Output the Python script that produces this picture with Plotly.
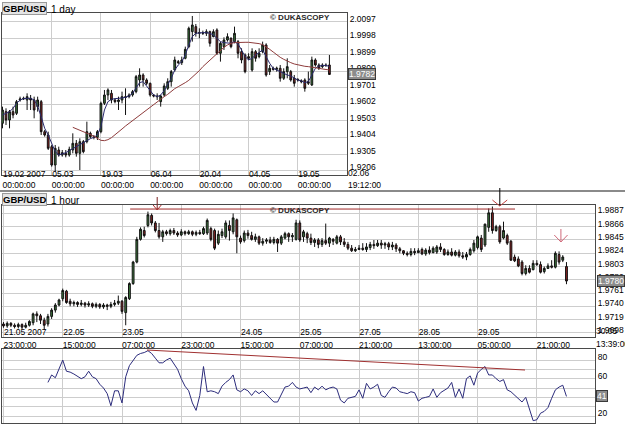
import plotly.graph_objects as go

# ---------------- Daily GBP/USD (top panel) ----------------
day_open = [1.9489, 1.9559, 1.9509, 1.9559, 1.9549, 1.9629, 1.9635, 1.9629, 1.9639, 1.9629,
            1.9589, 1.9619, 1.9439, 1.9419, 1.9349, 1.9239, 1.9329, 1.9299, 1.9309, 1.9299,
            1.9329, 1.9369, 1.9309, 1.9379, 1.9379, 1.9429, 1.9409, 1.9405, 1.9439, 1.9609,
            1.9659, 1.9669, 1.9629, 1.9619, 1.9629, 1.9649, 1.9649, 1.9659, 1.9679, 1.9749,
            1.9779, 1.9749, 1.9729, 1.9659, 1.9653, 1.9619, 1.9659, 1.9699, 1.9739, 1.9809,
            1.9859, 1.9853, 1.9879, 1.9949, 2.0039, 2.0069, 2.0029, 2.0033, 2.0029, 2.0039,
            2.0009, 2.0049, 1.9909, 1.9949, 1.9989, 1.9999, 1.9979, 1.9979, 1.9919, 1.9899,
            1.9889, 1.9809, 1.9919, 1.9889, 1.9919, 1.9959, 1.9799, 1.9819, 1.9813, 1.9819,
            1.9759, 1.9799, 1.9799, 1.9759, 1.9753, 1.9745, 1.9749, 1.9739, 1.9719, 1.9869,
            1.9839, 1.9829, 1.9839, 1.9839]
day_close = [1.9569, 1.9509, 1.9559, 1.9539, 1.9619, 1.9635, 1.9639, 1.9649, 1.9629, 1.9569,
             1.9629, 1.9439, 1.9419, 1.9339, 1.9239, 1.9339, 1.9299, 1.9313, 1.9299, 1.9333,
             1.9369, 1.9309, 1.9379, 1.9319, 1.9439, 1.9409, 1.9405, 1.9439, 1.9609, 1.9659,
             1.9689, 1.9629, 1.9619, 1.9629, 1.9649, 1.9645, 1.9659, 1.9679, 1.9769, 1.9779,
             1.9749, 1.9729, 1.9659, 1.9653, 1.9649, 1.9653, 1.9713, 1.9739, 1.9799, 1.9869,
             1.9853, 1.9869, 1.9933, 2.0059, 2.0079, 2.0029, 2.0033, 2.0029, 2.0039, 1.9969,
             2.0039, 1.9909, 1.9969, 1.9989, 2.0009, 1.9949, 2.0029, 1.9909, 1.9869, 1.9799,
             1.9879, 1.9919, 1.9879, 1.9909, 1.9959, 1.9779, 1.9819, 1.9813, 1.9819, 1.9759,
             1.9799, 1.9829, 1.9749, 1.9729, 1.9749, 1.9739, 1.9699, 1.9729, 1.9869, 1.9839,
             1.9819, 1.9839, 1.9835, 1.9782]
day_high = [1.9589, 1.9579, 1.9569, 1.9589, 1.9629, 1.9649, 1.9649, 1.9669, 1.9659, 1.9649,
            1.9649, 1.9629, 1.9449, 1.9439, 1.9359, 1.9359, 1.9349, 1.9329, 1.9329, 1.9349,
            1.9429, 1.9389, 1.9399, 1.9389, 1.9499, 1.9439, 1.9419, 1.9449, 1.9619, 1.9689,
            1.9699, 1.9689, 1.9639, 1.9649, 1.9679, 1.9699, 1.9669, 1.9689, 1.9779, 1.9819,
            1.9789, 1.9759, 1.9733, 1.9665, 1.9669, 1.9659, 1.9729, 1.9759, 1.9809, 1.9889,
            1.9869, 1.9889, 1.9949, 2.0069, 2.0133, 2.0085, 2.0059, 2.0045, 2.0053, 2.0045,
            2.0053, 2.0059, 1.9979, 2.0005, 2.0029, 2.0005, 2.0069, 1.9989, 1.9939, 1.9909,
            1.9909, 1.9939, 1.9929, 1.9939, 1.9979, 1.9969, 1.9839, 1.9829, 1.9829, 1.9839,
            1.9819, 1.9879, 1.9809, 1.9779, 1.9759, 1.9753, 1.9759, 1.9799, 1.9889, 1.9879,
            1.9849, 1.9849, 1.9849, 1.9899]
day_low = [1.9459, 1.9479, 1.9459, 1.9519, 1.9539, 1.9619, 1.9629, 1.9569, 1.9569, 1.9519,
           1.9559, 1.9419, 1.9409, 1.9329, 1.9229, 1.9199, 1.9289, 1.9289, 1.9285, 1.9289,
           1.9309, 1.9289, 1.9209, 1.9309, 1.9369, 1.9399, 1.9393, 1.9389, 1.9429, 1.9599,
           1.9629, 1.9609, 1.9609, 1.9569, 1.9609, 1.9539, 1.9639, 1.9649, 1.9669, 1.9709,
           1.9709, 1.9719, 1.9649, 1.9645, 1.9629, 1.9589, 1.9649, 1.9689, 1.9709, 1.9799,
           1.9845, 1.9839, 1.9873, 1.9939, 1.9979, 2.0009, 1.9999, 2.0019, 2.0013, 1.9949,
           2.0005, 1.9899, 1.9859, 1.9929, 1.9979, 1.9939, 1.9969, 1.9879, 1.9849, 1.9789,
           1.9869, 1.9799, 1.9859, 1.9879, 1.9909, 1.9769, 1.9779, 1.9805, 1.9799, 1.9739,
           1.9749, 1.9759, 1.9739, 1.9709, 1.9739, 1.9729, 1.9679, 1.9719, 1.9713, 1.9829,
           1.9809, 1.9819, 1.9829, 1.9779]
day_ma_short = [1.9539, 1.9549, 1.9559, 1.9579, 1.9609, 1.9629, 1.9637, 1.9639, 1.9639, 1.9629,
                1.9593, 1.9529, 1.9459, 1.9419, 1.9369, 1.9319, 1.9299, 1.9305, 1.9313, 1.9325,
                1.9337, 1.9349, 1.9361, 1.9373, 1.9389, 1.9397, 1.9405, 1.9419, 1.9469, 1.9569,
                1.9619, 1.9633, 1.9637, 1.9637, 1.9641, 1.9645, 1.9653, 1.9669, 1.9705, 1.9733,
                1.9739, 1.9713, 1.9685, 1.9659, 1.9649, 1.9659, 1.9685, 1.9719, 1.9759, 1.9809,
                1.9839, 1.9859, 1.9899, 1.9959, 2.0009, 2.0029, 2.0033, 2.0033, 2.0033, 2.0029,
                2.0019, 1.9999, 1.9979, 1.9973, 1.9973, 1.9969, 1.9979, 1.9965, 1.9929, 1.9889,
                1.9869, 1.9879, 1.9899, 1.9913, 1.9929, 1.9889, 1.9849, 1.9819, 1.9809, 1.9799,
                1.9785, 1.9779, 1.9773, 1.9759, 1.9749, 1.9743, 1.9733, 1.9739, 1.9779, 1.9819,
                1.9833, 1.9837, 1.9837, 1.9829]
day_ma_long_start = 20
day_ma_long = [1.9465, 1.9457, 1.9449, 1.9441, 1.9431, 1.9421, 1.9411, 1.9397, 1.9387, 1.9385,
               1.9391, 1.9403, 1.9419, 1.9437, 1.9455, 1.9473, 1.9489, 1.9505, 1.9521, 1.9539,
               1.9557, 1.9573, 1.9589, 1.9605, 1.9621, 1.9635, 1.9649, 1.9663, 1.9681, 1.9697,
               1.9709, 1.9719, 1.9733, 1.9747, 1.9765, 1.9785, 1.9805, 1.9829, 1.9849, 1.9869,
               1.9889, 1.9909, 1.9929, 1.9945, 1.9959, 1.9969, 1.9973, 1.9975, 1.9975, 1.9975,
               1.9975, 1.9973, 1.9971, 1.9967, 1.9961, 1.9949, 1.9933, 1.9917, 1.9899, 1.9885,
               1.9873, 1.9861, 1.9853, 1.9845, 1.9839, 1.9835, 1.9831, 1.9829, 1.9827, 1.9823,
               1.9819, 1.9815, 1.9813, 1.9809]
day_tick_idx = [0, 14, 28, 42, 56, 70, 84, 98]
day_tick_dates = ["19.02 2007", "05.03", "19.03", "06.04", "20.04", "04.05", "19.05", "02.06"]
day_tick_times = ["00:00:00"] * 7 + ["19:12:00"]
day_price_ticks = [2.0097, 1.9998, 1.9899, 1.9800, 1.9701, 1.9602, 1.9503, 1.9404, 1.9305, 1.9206]
day_last = 1.9782

# ---------------- Hourly GBP/USD (middle panel) ----------------
hour_open = [1.9712, 1.9709, 1.9713, 1.9710, 1.9708, 1.9711, 1.9707, 1.9710, 1.9714, 1.9728,
             1.9725, 1.9718, 1.9712, 1.9724, 1.9734, 1.9742, 1.9752, 1.9764, 1.9748, 1.9744,
             1.9746, 1.9743, 1.9745, 1.9742, 1.9744, 1.9740, 1.9743, 1.9739, 1.9742, 1.9740,
             1.9743, 1.9745, 1.9748, 1.9730, 1.9752, 1.9776, 1.9810, 1.9846, 1.9860, 1.9868,
             1.9884, 1.9872, 1.9860, 1.9850, 1.9858, 1.9855, 1.9860, 1.9856, 1.9853, 1.9858,
             1.9855, 1.9858, 1.9854, 1.9857, 1.9855, 1.9856, 1.9863, 1.9860, 1.9840, 1.9852,
             1.9850, 1.9868, 1.9858, 1.9877, 1.9848, 1.9844, 1.9856, 1.9852, 1.9846, 1.9850,
             1.9840, 1.9843, 1.9845, 1.9841, 1.9846, 1.9840, 1.9848, 1.9855, 1.9850, 1.9846,
             1.9872, 1.9850, 1.9855, 1.9848, 1.9841, 1.9845, 1.9838, 1.9844, 1.9840, 1.9846,
             1.9840, 1.9850, 1.9842, 1.9838, 1.9832, 1.9828, 1.9830, 1.9832, 1.9830, 1.9833,
             1.9838, 1.9836, 1.9840, 1.9837, 1.9839, 1.9834, 1.9837, 1.9831, 1.9828, 1.9824,
             1.9822, 1.9827, 1.9825, 1.9830, 1.9823, 1.9829, 1.9825, 1.9826, 1.9834, 1.9830,
             1.9822, 1.9826, 1.9821, 1.9826, 1.9820, 1.9818, 1.9822, 1.9828, 1.9833, 1.9848,
             1.9837, 1.9865, 1.9888, 1.9860, 1.9866, 1.9848, 1.9852, 1.9843, 1.9818, 1.9815,
             1.9810, 1.9792, 1.9800, 1.9798, 1.9808, 1.9806, 1.9795, 1.9800, 1.9804, 1.9802,
             1.9822, 1.9813, 1.9803]
hour_close = [1.9709, 1.9713, 1.9710, 1.9708, 1.9711, 1.9707, 1.9710, 1.9716, 1.9728, 1.9725,
              1.9718, 1.9710, 1.9724, 1.9734, 1.9742, 1.9750, 1.9765, 1.9746, 1.9744, 1.9746,
              1.9743, 1.9745, 1.9742, 1.9744, 1.9740, 1.9743, 1.9739, 1.9742, 1.9740, 1.9743,
              1.9745, 1.9748, 1.9732, 1.9754, 1.9776, 1.9810, 1.9846, 1.9862, 1.9852, 1.9885,
              1.9872, 1.9860, 1.9850, 1.9858, 1.9855, 1.9860, 1.9856, 1.9853, 1.9858, 1.9855,
              1.9858, 1.9854, 1.9857, 1.9855, 1.9863, 1.9876, 1.9846, 1.9832, 1.9854, 1.9858,
              1.9872, 1.9860, 1.9880, 1.9850, 1.9842, 1.9856, 1.9852, 1.9846, 1.9850, 1.9840,
              1.9843, 1.9845, 1.9841, 1.9846, 1.9840, 1.9850, 1.9855, 1.9850, 1.9852, 1.9872,
              1.9845, 1.9858, 1.9848, 1.9841, 1.9845, 1.9838, 1.9844, 1.9840, 1.9848, 1.9843,
              1.9850, 1.9842, 1.9838, 1.9832, 1.9828, 1.9830, 1.9832, 1.9830, 1.9834, 1.9838,
              1.9836, 1.9840, 1.9837, 1.9839, 1.9834, 1.9837, 1.9831, 1.9828, 1.9824, 1.9822,
              1.9827, 1.9825, 1.9828, 1.9823, 1.9829, 1.9825, 1.9832, 1.9834, 1.9830, 1.9822,
              1.9826, 1.9821, 1.9826, 1.9820, 1.9818, 1.9822, 1.9830, 1.9840, 1.9850, 1.9830,
              1.9870, 1.9888, 1.9860, 1.9866, 1.9842, 1.9860, 1.9840, 1.9813, 1.9812, 1.9804,
              1.9792, 1.9800, 1.9794, 1.9808, 1.9806, 1.9794, 1.9800, 1.9804, 1.9802, 1.9824,
              1.9810, 1.9818, 1.9780]
hour_high = [1.9715, 1.9716, 1.9715, 1.9713, 1.9714, 1.9713, 1.9714, 1.9718, 1.9730, 1.9732,
             1.9728, 1.9722, 1.9728, 1.9737, 1.9745, 1.9752, 1.9768, 1.9766, 1.9752, 1.9749,
             1.9748, 1.9750, 1.9747, 1.9748, 1.9746, 1.9746, 1.9745, 1.9745, 1.9744, 1.9747,
             1.9750, 1.9757, 1.9750, 1.9756, 1.9778, 1.9812, 1.9850, 1.9865, 1.9866, 1.9890,
             1.9887, 1.9875, 1.9872, 1.9861, 1.9861, 1.9863, 1.9864, 1.9859, 1.9862, 1.9860,
             1.9861, 1.9860, 1.9860, 1.9861, 1.9866, 1.9879, 1.9866, 1.9863, 1.9860, 1.9863,
             1.9876, 1.9876, 1.9887, 1.9879, 1.9852, 1.9860, 1.9861, 1.9858, 1.9855, 1.9852,
             1.9848, 1.9848, 1.9850, 1.9850, 1.9848, 1.9853, 1.9858, 1.9857, 1.9856, 1.9877,
             1.9876, 1.9861, 1.9858, 1.9855, 1.9848, 1.9848, 1.9848, 1.9871, 1.9850, 1.9848,
             1.9853, 1.9853, 1.9848, 1.9842, 1.9837, 1.9834, 1.9837, 1.9840, 1.9840, 1.9842,
             1.9845, 1.9845, 1.9845, 1.9842, 1.9842, 1.9842, 1.9840, 1.9834, 1.9829, 1.9827,
             1.9832, 1.9832, 1.9832, 1.9833, 1.9832, 1.9835, 1.9835, 1.9837, 1.9840, 1.9832,
             1.9830, 1.9832, 1.9829, 1.9830, 1.9826, 1.9826, 1.9833, 1.9845, 1.9852, 1.9853,
             1.9871, 1.9895, 1.9898, 1.9869, 1.9869, 1.9874, 1.9855, 1.9845, 1.9822, 1.9819,
             1.9813, 1.9805, 1.9805, 1.9813, 1.9813, 1.9811, 1.9803, 1.9808, 1.9813, 1.9827,
             1.9827, 1.9821, 1.9810]
hour_low = [1.9706, 1.9706, 1.9707, 1.9705, 1.9705, 1.9704, 1.9705, 1.9708, 1.9710, 1.9715,
            1.9712, 1.9703, 1.9708, 1.9720, 1.9730, 1.9740, 1.9748, 1.9744, 1.9740, 1.9740,
            1.9739, 1.9740, 1.9738, 1.9739, 1.9737, 1.9737, 1.9736, 1.9736, 1.9734, 1.9737,
            1.9740, 1.9742, 1.9728, 1.9710, 1.9750, 1.9774, 1.9808, 1.9844, 1.9849, 1.9865,
            1.9868, 1.9857, 1.9847, 1.9842, 1.9852, 1.9852, 1.9853, 1.9850, 1.9851, 1.9852,
            1.9853, 1.9851, 1.9851, 1.9853, 1.9853, 1.9853, 1.9843, 1.9829, 1.9837, 1.9848,
            1.9847, 1.9844, 1.9854, 1.9824, 1.9839, 1.9841, 1.9847, 1.9844, 1.9842, 1.9837,
            1.9836, 1.9839, 1.9839, 1.9838, 1.9826, 1.9837, 1.9846, 1.9842, 1.9842, 1.9844,
            1.9842, 1.9842, 1.9840, 1.9837, 1.9834, 1.9832, 1.9834, 1.9837, 1.9834, 1.9837,
            1.9838, 1.9837, 1.9834, 1.9829, 1.9826, 1.9826, 1.9829, 1.9828, 1.9826, 1.9829,
            1.9831, 1.9834, 1.9831, 1.9831, 1.9829, 1.9829, 1.9826, 1.9824, 1.9821, 1.9819,
            1.9819, 1.9821, 1.9824, 1.9821, 1.9820, 1.9822, 1.9824, 1.9823, 1.9826, 1.9820,
            1.9820, 1.9819, 1.9819, 1.9817, 1.9815, 1.9813, 1.9820, 1.9825, 1.9830, 1.9826,
            1.9834, 1.9858, 1.9855, 1.9858, 1.9839, 1.9846, 1.9837, 1.9812, 1.9810, 1.9802,
            1.9789, 1.9789, 1.9792, 1.9797, 1.9804, 1.9792, 1.9792, 1.9799, 1.9800, 1.9800,
            1.9806, 1.9810, 1.9775]
hour_tick_idx = [0, 16, 32, 48, 64, 80, 96, 112, 128, 144, 159.7]
hour_tick_dates = ["21.05 2007", "22.05", "23.05", "", "24.05", "25.05", "27.05", "28.05", "29.05", "", "30.05"]
hour_tick_times = ["23:00:00", "15:00:00", "07:00:00", "23:00:00", "15:00:00", "07:00:00",
                   "21:00:00", "13:00:00", "05:00:00", "21:00:00", "13:39:00"]
hour_price_ticks = [1.9887, 1.9866, 1.9845, 1.9824, 1.9803, 1.9782, 1.9761, 1.9740, 1.9719, 1.9698]
hour_last = 1.9780
hour_resist_x = [34.2, 138.1]
hour_resist_y = [1.9894, 1.9894]

# ---------------- RSI (bottom panel) ----------------
rsi_start = 12
rsi_values = [56, 64, 61, 70, 80, 68, 67, 65, 62, 60,
              62, 68, 62, 60, 54, 50, 44, 31, 47, 47,
              34, 62, 74, 80, 85, 87, 88, 90, 87, 82,
              77, 77, 80, 82, 76, 70, 60, 52, 47, 34,
              26, 42, 73, 46, 47, 46, 44, 52, 56, 59,
              64, 48, 46, 49, 47, 42, 47, 44, 47, 43,
              39, 35, 35, 44, 51, 52, 56, 51, 49, 50,
              51, 45, 51, 48, 52, 48, 50, 51, 49, 37,
              34, 39, 40, 41, 48, 39, 55, 49, 51, 54,
              42, 40, 46, 51, 50, 46, 45, 44, 46, 45,
              36, 39, 40, 41, 49, 40, 45, 48, 50, 56,
              40, 49, 39, 60, 63, 53, 66, 70, 73, 64,
              64, 60, 57, 59, 48, 46, 42, 39, 35, 40,
              27, 15, 16, 23, 25, 29, 39, 48, 51, 53, 41]
rsi_trend_x = [38.75, 140.8]
rsi_trend_y = [90.7, 69.3]
rsi_ticks = [20, 30, 40, 50, 60, 70, 80]
rsi_tick_text = ["20", "", "", "", "60", "", "80"]
rsi_last = 41

# ---------------- figure ----------------
W, H = 625, 426


def px_x(v):
    return v / W


def px_y(v):
    return 1 - v / H


FONT = "Liberation Sans"
GRID = "#cdcdcd"
FRAME = "#4a4a4a"
TICKFONT = dict(family=FONT, size=8.5, color="#000000")

day_idx = list(range(len(day_close)))
hour_idx = list(range(len(hour_close)))
rsi_idx = list(range(rsi_start, rsi_start + len(rsi_values)))

inc = dict(line=dict(color="#111111", width=1), fillcolor="#3e7b3e")
dec = dict(line=dict(color="#111111", width=1), fillcolor="#8c2323")

fig = go.Figure()
fig.add_trace(go.Candlestick(x=day_idx, open=day_open, high=day_high, low=day_low, close=day_close,
                             xaxis="x", yaxis="y", increasing=inc, decreasing=dec,
                             whiskerwidth=0, hoverinfo="skip", showlegend=False))
fig.add_trace(go.Scatter(x=day_idx, y=day_ma_short, mode="lines", xaxis="x", yaxis="y",
                         line=dict(color="#2a2a6e", width=1), hoverinfo="skip", showlegend=False))
fig.add_trace(go.Scatter(x=day_idx[day_ma_long_start:], y=day_ma_long, mode="lines", xaxis="x", yaxis="y",
                         line=dict(color="#8e3c3c", width=1), hoverinfo="skip", showlegend=False))
fig.add_trace(go.Scatter(x=day_idx, y=day_close, mode="lines", xaxis="x4", yaxis="y", opacity=0,
                         line=dict(width=0), hoverinfo="skip", showlegend=False))

fig.add_trace(go.Candlestick(x=hour_idx, open=hour_open, high=hour_high, low=hour_low, close=hour_close,
                             xaxis="x2", yaxis="y2", increasing=inc, decreasing=dec,
                             whiskerwidth=0, hoverinfo="skip", showlegend=False))
fig.add_trace(go.Scatter(x=hour_resist_x, y=hour_resist_y, mode="lines", xaxis="x2", yaxis="y2",
                         line=dict(color="#a02828", width=1), hoverinfo="skip", showlegend=False))
fig.add_trace(go.Scatter(x=hour_idx, y=hour_close, mode="lines", xaxis="x5", yaxis="y2", opacity=0,
                         line=dict(width=0), hoverinfo="skip", showlegend=False))

fig.add_trace(go.Scatter(x=rsi_idx, y=rsi_values, mode="lines", xaxis="x3", yaxis="y3",
                         line=dict(color="#2c2c7c", width=1), hoverinfo="skip", showlegend=False))
fig.add_trace(go.Scatter(x=rsi_trend_x, y=rsi_trend_y, mode="lines", xaxis="x3", yaxis="y3",
                         line=dict(color="#a03030", width=1), hoverinfo="skip", showlegend=False))

common = dict(showline=True, mirror=True, linecolor=FRAME, linewidth=1, ticks="", zeroline=False,
              showgrid=True, gridcolor=GRID, gridwidth=1, tickfont=TICKFONT, fixedrange=True,
              ticklabeloverflow="allow")
overlay = dict(showline=False, ticks="", zeroline=False, showgrid=False, tickfont=TICKFONT,
               fixedrange=True, side="bottom", ticklabelposition="outside right",
               ticklabeloverflow="allow")

day_range = [-0.14, 98]
hour_range = [-0.4, 159.7]

# the labels at the right end of each time axis are placed as annotations (below)
day_dates_axis = day_tick_dates[:-1] + [""]
day_times_axis = day_tick_times[:-1] + [""]
hour_dates_axis = hour_tick_dates[:-1] + [""]
hour_times_axis = hour_tick_times[:-1] + [""]

fig.update_layout(
    width=W, height=H, margin=dict(l=0, r=0, t=0, b=0),
    paper_bgcolor="white", plot_bgcolor="white", showlegend=False, hovermode=False,
    font=dict(family=FONT, size=9, color="#000"),
    xaxis=dict(domain=[px_x(2), px_x(347)], range=day_range, anchor="y",
               tickmode="array", tickvals=day_tick_idx, ticktext=day_dates_axis,
               ticklabelposition="inside right", ticklabelstandoff=-8,
               rangeslider=dict(visible=False), **common),
    xaxis4=dict(overlaying="x", anchor="y", range=day_range, tickmode="array",
                tickvals=day_tick_idx, ticktext=day_times_axis, ticklabelstandoff=3, **overlay),
    yaxis=dict(domain=[px_y(175), px_y(13.3)], range=[1.9179, 2.0149], anchor="x", side="right",
               tickmode="array", tickvals=day_price_ticks, tickformat=".4f", ticklabelshift=-3, **common),
    xaxis2=dict(domain=[px_x(2), px_x(595)], range=hour_range, anchor="y2",
                tickmode="array", tickvals=hour_tick_idx, ticktext=hour_dates_axis,
                ticklabelposition="inside right", ticklabelstandoff=-4,
                rangeslider=dict(visible=False), **common),
    xaxis5=dict(overlaying="x2", anchor="y2", range=hour_range, tickmode="array",
                tickvals=hour_tick_idx, ticktext=hour_times_axis, ticklabelstandoff=1, **overlay),
    yaxis2=dict(domain=[px_y(337), px_y(205)], range=[1.96914, 1.99004], anchor="x2", side="right",
                tickmode="array", tickvals=hour_price_ticks, tickformat=".4f", ticklabelshift=-3, **common),
    xaxis3=dict(domain=[px_x(2), px_x(595)], range=hour_range, anchor="y3",
                tickmode="array", tickvals=hour_tick_idx, showticklabels=False, **common),
    yaxis3=dict(domain=[px_y(423), px_y(349)], range=[12.5, 91.8], anchor="x3", side="right",
                tickmode="array", tickvals=rsi_ticks, ticktext=rsi_tick_text, ticklabelshift=-3, **common),
)

shapes = [dict(type="line", xref="paper", yref="paper", x0=0, x1=1, y0=px_y(191), y1=px_y(191),
               line=dict(color="#8a8a8a", width=2))]


def arrow(xi, half, y_top, y_tip, arm, shaft_color, head_color):
    out = [dict(type="line", xref="x2", yref="paper", x0=xi, x1=xi, y0=px_y(y_top), y1=px_y(y_tip),
                line=dict(color=shaft_color, width=1))]
    for s in (-1, 1):
        out.append(dict(type="line", xref="x2", yref="paper", x0=xi + s * half, x1=xi,
                        y0=px_y(y_tip - arm), y1=px_y(y_tip), line=dict(color=head_color, width=1)))
    return out


shapes += arrow(41.5, 1.1, 197, 210, 5, "#7a2020", "#b03030")
shapes += arrow(134.0, 2.0, 188, 206, 6, "#000000", "#c04040")
shapes += arrow(150.5, 1.8, 229, 242, 7, "#d06a7a", "#d06a7a")
fig.update_layout(shapes=shapes)

ann = []
for ytop, period in ((2, "1 day"), (193, "1 hour")):
    ann.append(dict(xref="paper", yref="paper", x=px_x(2), y=px_y(ytop), xanchor="left", yanchor="top",
                    text="<b>GBP/USD</b>", showarrow=False, bgcolor="#e4e4e4", bordercolor="#9a9a9a",
                    borderwidth=1, borderpad=0, font=dict(family=FONT, size=9.5, color="#000")))
    ann.append(dict(xref="paper", yref="paper", x=px_x(49), y=px_y(ytop), xanchor="left", yanchor="top",
                    text=period, showarrow=False, font=dict(family=FONT, size=10, color="#000")))
for yc in (18, 210):
    ann.append(dict(xref="paper", yref="paper", x=px_x(300), y=px_y(yc), xanchor="center", yanchor="middle",
                    text="<b>\u00a9 DUKASCOPY</b>", showarrow=False,
                    font=dict(family=FONT, size=8, color="#2a2a2a")))

# end-of-axis date / time labels, left-aligned at the last tick of each time axis
end_lbl = dict(showarrow=False, xanchor="left", yanchor="middle", yref="paper",
               font=TICKFONT, borderpad=0)
ann.append(dict(x=day_tick_idx[-1], xref="x", y=px_y(173), text=day_tick_dates[-1], **end_lbl))
ann.append(dict(x=day_tick_idx[-1], xref="x", y=px_y(185), text=day_tick_times[-1], **end_lbl))
ann.append(dict(x=hour_tick_idx[-1], xref="x2", y=px_y(331), text=hour_tick_dates[-1], **end_lbl))
ann.append(dict(x=hour_tick_idx[-1], xref="x2", y=px_y(344), text=hour_tick_times[-1], **end_lbl))

box = dict(showarrow=False, xanchor="left", yanchor="middle", bgcolor="#8c8c8c", bordercolor="#3a3a3a",
           borderwidth=1, borderpad=0, font=dict(family=FONT, size=8.5, color="#ffffff"), xref="paper")
ann.append(dict(x=px_x(348), y=day_last, yref="y", text=f"{day_last:.4f}", **box))
ann.append(dict(x=px_x(597), y=hour_last, yref="y2", text=f"{hour_last:.4f}", **box))
ann.append(dict(x=px_x(596), y=rsi_last, yref="y3", text=str(rsi_last), **box))
fig.update_layout(annotations=ann)

fig.write_html("out.html")
